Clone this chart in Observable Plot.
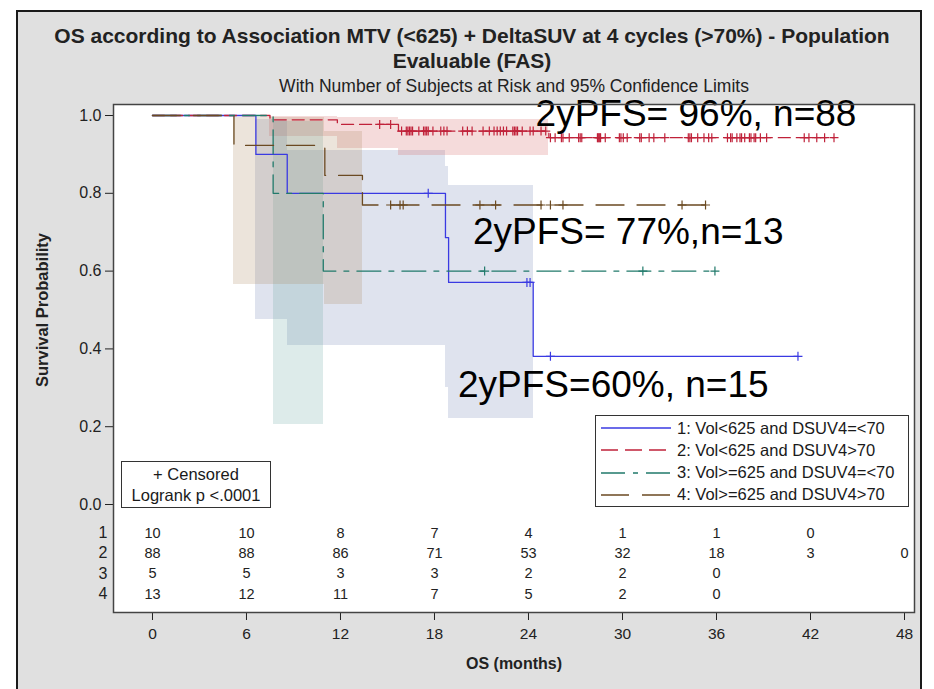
<!DOCTYPE html>
<html>
<head>
<meta charset="utf-8">
<script src="https://cdn.jsdelivr.net/npm/d3@7"></script>
<script src="https://cdn.jsdelivr.net/npm/@observablehq/plot@0.6"></script>
<style>
  html, body { margin: 0; padding: 0; background: #fff; }
  #page { position: relative; width: 934px; height: 689px; overflow: hidden;
          font-family: "Liberation Sans", Arial, sans-serif; color: #1a1a1a; }
  #panel { position: absolute; left: 16px; top: 10px; width: 906px; height: 720px;
           background: #e0e0e0; border: 2px solid #1a1a1a; box-sizing: border-box; }
  #chart { position: absolute; left: 0; top: 0; }
  .box { position: absolute; background: #fff; border: 1px solid #333; box-sizing: border-box; }
  #legend { left: 595px; top: 415px; width: 314px; height: 92px; font-size: 16.5px; }
  #legend .row { position: absolute; left: 0; height: 22px; display: flex; align-items: center; }
  #legend svg { margin-left: 5px; margin-right: 6px; }
  #censored { left: 121px; top: 461px; width: 150px; height: 47px; font-size: 16.5px;
              text-align: center; line-height: 21px; padding-top: 2px; }
</style>
</head>
<body>
<div id="page">
  <div id="panel"></div>
  <div id="chart"></div>
  <div id="legend" class="box"></div>
  <div id="censored" class="box">+ Censored<br>Logrank p &lt;.0001</div>
</div>
<script>
// ---- Kaplan-Meier estimates: [month, survival] at each event ----
const steps1 = [[0, 1], [6.6, 0.9], [8.6, 0.8], [18.7, 0.686], [18.9, 0.571], [24.3, 0.381]];
const steps2 = [[0, 1], [7.5, 0.989], [11.8, 0.977], [15.7, 0.96], [25.3, 0.943]];
const steps3 = [[0, 1], [7.7, 0.8], [10.9, 0.6]];
const steps4 = [[0, 1], [5.2, 0.923], [11.0, 0.846], [13.4, 0.77]];

// last follow-up time of each group (months)
const end1 = 41.2, end2 = 43.5, end3 = 35.9, end4 = 35.3;

// censoring times (months)
const censor1 = [17.6, 23.9, 24.1, 25.4, 41.2];
const censor2 = [
  14.5, 15.2, 15.9, 16.2, 16.3, 16.4, 16.5, 16.6, 17.0, 17.3, 17.4, 17.5, 17.6, 17.9,
  18.4, 18.6, 18.8, 19.8, 20.1, 20.4, 21.1, 21.5, 21.8, 22.0, 22.2, 22.4, 22.6, 23.0, 23.1, 23.2, 23.3, 23.6,
  24.1, 24.3, 24.8, 25.1, 25.4, 25.7, 26.1, 26.2, 26.6, 27.2, 27.3, 27.4, 28.4, 28.45, 28.5, 28.55, 28.6, 28.9, 29.8, 29.9,
  30.05, 30.3, 31.1, 31.2, 31.7, 32.0, 32.7, 34.2, 34.3, 34.4, 34.8, 35.2, 35.5, 35.7,
  36.7, 36.9, 37.0, 37.3, 37.5, 37.6, 37.8, 38.1, 38.2, 38.4, 38.5, 38.8, 39.2, 41.6, 41.9,
  42.4, 42.9, 43.5
];
const censor3 = [21.2, 31.3, 35.9];
const censor4 = [15.2, 15.8, 16.0, 20.9, 21.9, 24.8, 25.4, 26.2, 33.8, 35.3];

// 95% confidence limits: [from, to, lower, upper]
const band1 = [[6.6, 8.6, 0.475, 0.99], [8.6, 18.7, 0.41, 0.91], [18.7, 18.9, 0.30, 0.87], [18.9, 24.3, 0.22, 0.82]];
const band2 = [[7.5, 11.8, 0.947, 0.998], [11.8, 15.7, 0.915, 0.995], [15.7, 25.3, 0.897, 0.99]];
const band3 = [[7.7, 10.9, 0.205, 0.985]];
const band4 = [[5.2, 11.0, 0.566, 0.995], [11.0, 13.4, 0.514, 0.96]];

// number of subjects at risk
const riskTimes = [0, 6, 12, 18, 24, 30, 36, 42, 48];
const risk1 = [10, 10, 8, 7, 4, 1, 1, 0];
const risk2 = [88, 88, 86, 71, 53, 32, 18, 3, 0];
const risk3 = [5, 5, 3, 3, 2, 2, 0];
const risk4 = [13, 12, 11, 7, 5, 2, 0];

const groupNames = [
  "1: Vol<625 and DSUV4=<70",
  "2: Vol<625 and DSUV4>70",
  "3: Vol>=625 and DSUV4=<70",
  "4: Vol>=625 and DSUV4>70"
];
const noteLabels = ["2yPFS= 96%, n=88", "2yPFS= 77%,n=13", "2yPFS=60%, n=15"];

const xTicks = [0, 6, 12, 18, 24, 30, 36, 42, 48];
const yTicks = [0, 0.2, 0.4, 0.6, 0.8, 1.0];

// ---- styling per group ----
const groups = [
  {steps: steps1, end: end1, censors: censor1, bands: band1, risk: risk1,
   color: "#3a3ae2", fill: "#6f7eb3", dash: null, legendDash: null},
  {steps: steps2, end: end2, censors: censor2, bands: band2, risk: risk2,
   color: "#c0223a", fill: "#d05b5b", dash: "12,6", legendDash: "17,7"},
  {steps: steps3, end: end3, censors: censor3, bands: band3, risk: risk3,
   color: "#217a6b", fill: "#66a5a0", dash: "24,8,5,8", legendDash: "24,8,5,8"},
  {steps: steps4, end: end4, censors: censor4, bands: band4, risk: risk4,
   color: "#6b4a22", fill: "#a9865b", dash: "28,13", legendDash: "28,13"}
];

function survivalAt(steps, t) {
  let s = steps[0][1];
  for (const [ti, si] of steps) if (ti <= t) s = si;
  return s;
}
function lineData(g) {
  const pts = g.steps.map(([t, s]) => ({t, s}));
  pts.push({t: g.end, s: g.steps[g.steps.length - 1][1]});
  return pts;
}

// layout: where the stated 2-year rates are written, and the at-risk rows
const notePlace = [[24.45, 1.003], [20.45, 0.70], [19.5, 0.306]];
const rowY = i => -0.073 - 0.0525 * i;

const marks = [Plot.frame({fill: "white"})];

for (const g of groups) {
  marks.push(Plot.rect(g.bands, {
    x1: d => d[0], x2: d => d[1], y1: d => d[2], y2: d => d[3],
    fill: g.fill, fillOpacity: 0.22, shapeRendering: "crispEdges"
  }));
}
for (const g of groups) {
  marks.push(Plot.line(lineData(g), {
    x: "t", y: "s", curve: "step-after", stroke: g.color, strokeWidth: 1.3,
    strokeDasharray: g.dash
  }));
}
for (const g of groups) {
  marks.push(Plot.dot(g.censors.map(t => ({t, s: survivalAt(g.steps, t)})), {
    x: "t", y: "s", symbol: "plus", r: 3, stroke: g.color, strokeWidth: 1.2
  }));
}

// 2-year annotations
marks.push(Plot.text(noteLabels.map((label, i) => ({label, t: notePlace[i][0], s: notePlace[i][1]})), {
  x: "t", y: "s", text: "label", textAnchor: "start", lineAnchor: "middle",
  fontSize: 37, fill: "#000"
}));

// at-risk table
const riskCells = [];
groups.forEach((g, i) => g.risk.forEach((n, j) => riskCells.push({t: riskTimes[j], row: i, n})));
marks.push(Plot.text(riskCells, {
  x: "t", y: d => rowY(d.row), text: d => String(d.n), fontSize: 14.5, fill: "#222"
}));
marks.push(Plot.text(groups.map((g, i) => ({label: String(i + 1), row: i})), {
  frameAnchor: "left", y: d => rowY(d.row), text: "label", textAnchor: "end",
  dx: -6, fontSize: 16, fill: "#222"
}));

// axes
marks.push(Plot.axisY({ticks: yTicks, tickFormat: d3.format(".1f"), tickSize: 8,
  tickPadding: 4, label: null, fontSize: 16}));
marks.push(Plot.axisX({ticks: xTicks, tickSize: 8, tickPadding: 7, label: null, fontSize: 15.5}));
marks.push(Plot.text(["OS (months)"], {frameAnchor: "bottom", dy: 51, lineAnchor: "middle",
  fontWeight: "bold", fontSize: 16}));
marks.push(Plot.text(["Survival Probability"], {frameAnchor: "left", y: 0.5, dx: -71,
  rotate: -90, textAnchor: "middle", lineAnchor: "middle", fontWeight: "bold", fontSize: 16.5}));

// titles
marks.push(Plot.text(["OS according to Association MTV (<625) + DeltaSUV at 4 cycles (>70%) - Population"], {
  frameAnchor: "top", dx: -42, dy: -68, lineAnchor: "middle", fontWeight: "bold", fontSize: 21}));
marks.push(Plot.text(["Evaluable (FAS)"], {
  frameAnchor: "top", dx: -42, dy: -43, lineAnchor: "middle", fontWeight: "bold", fontSize: 21}));
marks.push(Plot.text(["With Number of Subjects at Risk and 95% Confidence Limits"], {
  frameAnchor: "top", dy: -18, lineAnchor: "middle", fontSize: 17.5}));

marks.push(Plot.frame({stroke: "#444", strokeWidth: 1.5}));

const chart = Plot.plot({
  width: 934,
  height: 689,
  marginLeft: 113,
  marginRight: 20,
  marginTop: 104,
  marginBottom: 77,
  x: {domain: [-2.489, 48.638]},
  y: {domain: [-0.2776, 1.0283]},
  style: {background: "transparent", fontFamily: "'Liberation Sans', Arial, sans-serif",
          color: "#222", overflow: "visible"},
  marks
});
document.getElementById("chart").append(chart);

// legend
const legend = document.getElementById("legend");
groups.forEach((g, i) => {
  const row = document.createElement("div");
  row.className = "row";
  row.style.top = (1 + 22.3 * i) + "px";
  const dash = g.legendDash ? `stroke-dasharray="${g.legendDash}"` : "";
  row.innerHTML = `<svg width="70" height="10"><line x1="0" x2="70" y1="5" y2="5" stroke="${g.color}" stroke-width="1.3" ${dash}/></svg><span></span>`;
  row.querySelector("span").textContent = groupNames[i];
  legend.append(row);
});
</script>
</body>
</html>
